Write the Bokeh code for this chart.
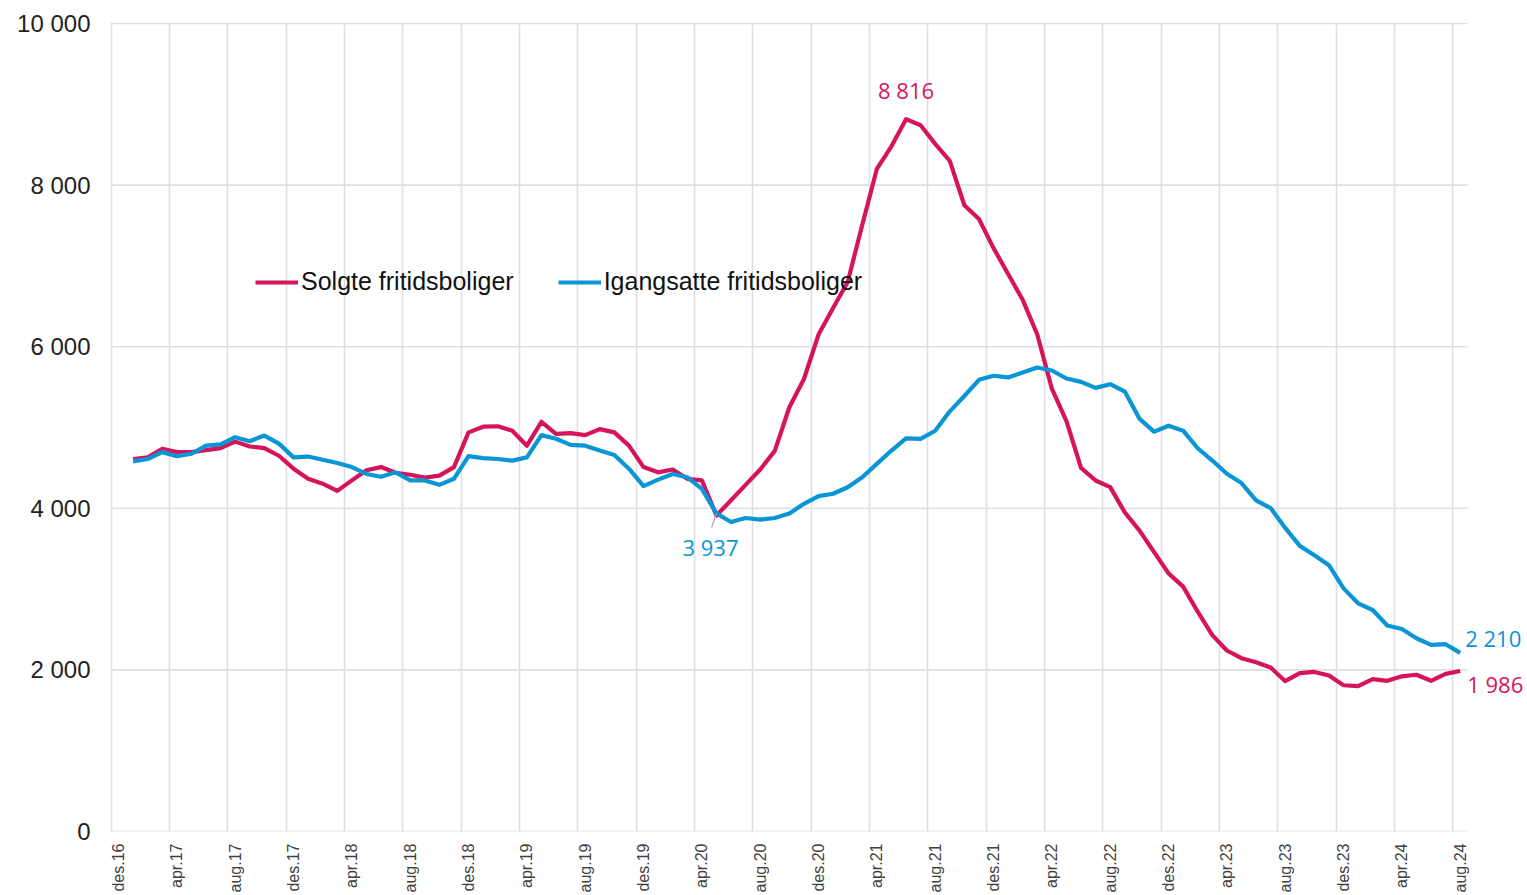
import math
from bokeh.plotting import figure
from bokeh.models import Range1d, FixedTicker, Label
from bokeh.embed import file_html
from bokeh.resources import INLINE

# ---- data (monthly, jan.17 .. aug.24; category 0 = des.16 has no value) ----
tick_labels = ["des.16", "apr.17", "aug.17", "des.17", "apr.18", "aug.18", "des.18",
               "apr.19", "aug.19", "des.19", "apr.20", "aug.20", "des.20", "apr.21",
               "aug.21", "des.21", "apr.22", "aug.22", "des.22", "apr.23", "aug.23",
               "des.23", "apr.24", "aug.24"]

solgte = [4610, 4630, 4735, 4695, 4695, 4720, 4745, 4825, 4765, 4745, 4650, 4490,
          4365, 4305, 4215, 4345, 4470, 4510, 4440, 4415, 4380, 4405, 4510, 4940,
          5010, 5015, 4960, 4775, 5070, 4920, 4930, 4905, 4980, 4940, 4775, 4510,
          4445, 4480, 4365, 4345, 3910, 4100, 4290, 4480, 4710, 5250, 5600, 6150,
          6480, 6800, 7510, 8200, 8480, 8816, 8740, 8510, 8300, 7750, 7580, 7220,
          6900, 6580, 6150, 5480, 5080, 4500, 4344, 4262, 3950, 3727, 3460, 3195,
          3030, 2720, 2430, 2240, 2145, 2095, 2030, 1860, 1960, 1975, 1930, 1810,
          1800, 1885, 1865, 1920, 1940, 1865, 1950, 1986]

igangsatte = [4580, 4610, 4695, 4645, 4675, 4775, 4790, 4880, 4830, 4900, 4800, 4630,
              4640, 4600, 4560, 4510, 4425, 4390, 4445, 4345, 4345, 4290, 4365, 4645,
              4620, 4610, 4590, 4630, 4905, 4860, 4785, 4775, 4715, 4660, 4490, 4275,
              4355, 4425, 4385, 4240, 3937, 3830, 3880, 3860, 3880, 3935, 4055, 4150,
              4180, 4260, 4385, 4550, 4715, 4865, 4860, 4960, 5200, 5390, 5590, 5640,
              5620, 5680, 5742, 5705, 5606, 5565, 5490, 5536, 5444, 5110, 4948, 5022,
              4961, 4743, 4591, 4427, 4312, 4097, 4003, 3757, 3535, 3420, 3296, 3009,
              2824, 2741, 2549, 2507, 2392, 2310, 2318, 2210]

y_ticks = [0, 2000, 4000, 6000, 8000, 10000]

RED = "#D6145C"
BLUE = "#0A96D6"
GRID = "#DCE0E5"

def fmt(v):
    return "{:,}".format(int(v)).replace(",", " ")

x_idx = list(range(1, len(solgte) + 1))
n_cat = len(tick_labels) * 4 - 3  # 93 categories des.16 .. aug.24
x_lo = -0.55
x_hi_axis = n_cat - 0.5
# frame extends past the last category so the end labels have room
x_hi_frame = x_lo + (x_hi_axis - x_lo) * 1417.0 / 1357.0

p = figure(width=1527, height=895, output_backend="svg", toolbar_location=None,
           x_range=Range1d(x_lo, x_hi_frame), y_range=Range1d(0, 10012),
           min_border_left=110, min_border_right=0, min_border_top=22,
           min_border_bottom=61)
p.outline_line_color = None
p.background_fill_color = "white"

# grids
p.xgrid.ticker = FixedTicker(ticks=[i * 4 - 0.5 for i in range(len(tick_labels))])
p.xgrid.grid_line_color = GRID
p.xgrid.grid_line_width = 1.6
p.ygrid.grid_line_color = None
p.segment(x0=[x_lo] * len(y_ticks), y0=y_ticks,
          x1=[x_hi_axis] * len(y_ticks), y1=y_ticks,
          line_color=GRID, line_width=1.6)

# axes
p.xaxis.ticker = FixedTicker(ticks=[i * 4 for i in range(len(tick_labels))])
p.xaxis.major_label_overrides = {i * 4: lab for i, lab in enumerate(tick_labels)}
p.xaxis.major_label_orientation = math.pi / 2
p.xaxis.major_label_text_font = "Liberation Sans"
p.xaxis.major_label_text_font_size = "16px"
p.xaxis.major_label_text_color = "#404040"
p.xaxis.major_label_standoff = 12
p.yaxis.ticker = FixedTicker(ticks=y_ticks)
p.yaxis.major_label_overrides = {t: fmt(t) for t in y_ticks}
p.yaxis.major_label_text_font = "Liberation Sans"
p.yaxis.major_label_text_font_size = "24px"
p.yaxis.major_label_text_color = "#222222"
p.yaxis.major_label_standoff = 20
for ax in (p.xaxis, p.yaxis):
    ax.axis_line_color = None
    ax.major_tick_line_color = None
    ax.minor_tick_line_color = None
    ax.major_tick_out = 0
    ax.major_tick_in = 0

# lines
p.line(x_idx, solgte, line_color=RED, line_width=4.2, line_join="round",
       legend_label="Solgte fritidsboliger")
p.line(x_idx, igangsatte, line_color=BLUE, line_width=4.2, line_join="round",
       legend_label="Igangsatte fritidsboliger")

# data labels
peak_i = solgte.index(max(solgte))
low_i = 40  # apr.20 dip of igangsatte
last = len(solgte) - 1

p.segment(x0=[x_idx[low_i]], y0=[igangsatte[low_i]],
          x1=[x_idx[low_i] - 0.33], y1=[igangsatte[low_i] - 175],
          line_color="#A6A6A6", line_width=1.2)

def add_label(xv, yv, txt, color, align, dx, dy):
    p.add_layout(Label(x=xv, y=yv, text=txt, text_color=color,
                       text_font="Open Sans", text_font_size="22px",
                       text_align=align, text_baseline="middle",
                       x_offset=dx, y_offset=dy))

add_label(x_idx[peak_i], solgte[peak_i], fmt(solgte[peak_i]), RED, "center", 0, 29)
add_label(x_idx[low_i], igangsatte[low_i], fmt(igangsatte[low_i]), BLUE, "center", -6, -34)
add_label(x_idx[last], igangsatte[last], fmt(igangsatte[last]), BLUE, "left", 5, 15)
add_label(x_idx[last], solgte[last], fmt(solgte[last]), RED, "left", 7, -13)

# legend
lg = p.legend[0]
lg.location = (145, 535)
lg.orientation = "horizontal"
lg.label_text_font = "Liberation Sans"
lg.label_text_font_size = "25px"
lg.label_text_color = "#111111"
lg.glyph_width = 43
lg.glyph_height = 28
lg.label_height = 28
lg.label_standoff = 3
lg.spacing = 44
lg.padding = 0
lg.margin = 0
lg.border_line_color = None
lg.background_fill_alpha = 0

open("out.html", "w").write(file_html(p, INLINE))
